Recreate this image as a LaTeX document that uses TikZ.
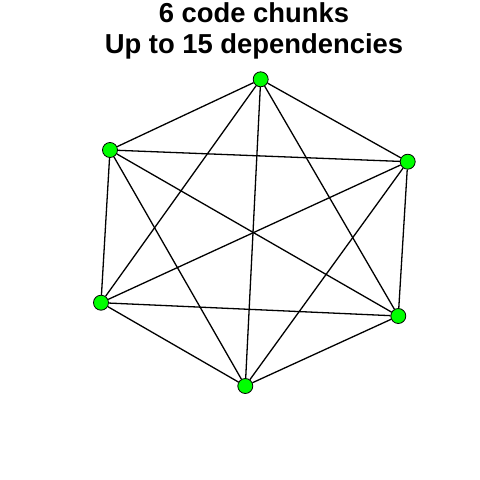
\documentclass[tikz,border=0pt]{standalone}
\usepackage{fontspec}
\setmainfont{Liberation Sans}
\begin{document}
\begin{tikzpicture}[x=1pt,y=-1pt,
  vert/.style={circle,draw=black,fill=green,line width=0.8pt,minimum size=15pt,inner sep=0pt},
  edge/.style={draw=black,line width=1.3pt},
  ttl/.style={anchor=base,font=\fontsize{27.4}{30}\bfseries,inner sep=0pt}]
\useasboundingbox (0,0) rectangle (480,480);
\node[ttl] (t1) at (254,22.7) {6 code chunks};
\node[ttl] (t2) at (254,53.3) {Up to 15 dependencies};
\node[vert] (v1) at (260.7,79.3) {};
\node[vert] (v2) at (110,150) {};
\node[vert] (v3) at (407.7,161.7) {};
\node[vert] (v4) at (101,302.7) {};
\node[vert] (v5) at (398.3,316) {};
\node[vert] (v6) at (245.3,386) {};
\foreach \a/\b in {1/2,1/3,1/4,1/5,1/6,2/3,2/4,2/5,2/6,3/4,3/5,3/6,4/5,4/6,5/6}
  \draw[edge] (v\a) -- (v\b);
\end{tikzpicture}
\end{document}
